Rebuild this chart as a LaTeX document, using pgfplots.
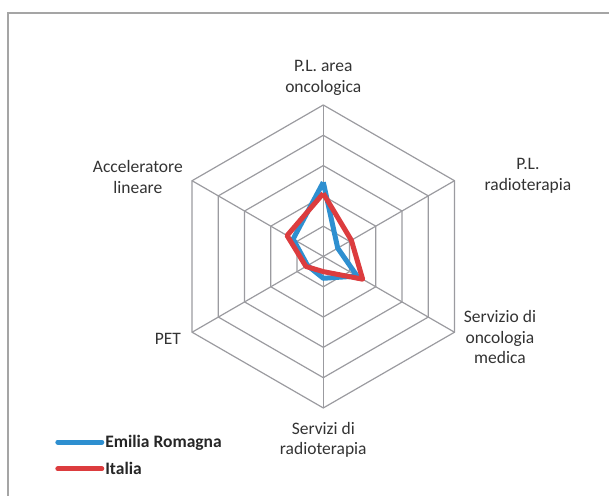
\documentclass[border=0pt]{standalone}
\usepackage{fontspec}
\setmainfont{Carlito}
\usepackage{pgfplots}
\pgfplotsset{compat=1.18}
\definecolor{erblue}{RGB}{46,143,208}
\definecolor{itred}{RGB}{220,60,62}
\definecolor{gridgray}{RGB}{155,155,160}
\definecolor{framegray}{RGB}{165,165,165}

\begin{document}
\begin{tikzpicture}[lab/.style={align=center, font=\fontsize{17.5}{20.5}\selectfont, text=black!80}]
\begin{axis}[
  x=30.3pt, y=30.3pt,
  xmin=-10.67, xmax=9.43, ymin=-7.904, ymax=8.465,
  hide axis, clip=false,
  legend style={at={(axis description cs:0.0905,0.0817)}, anchor=west,
    draw=none, fill=none, inner sep=0pt, row sep=11pt,
    font=\fontsize{17.5}{20}\selectfont\bfseries,
    nodes={inner sep=1pt, text=black!85}},
  legend cell align=left,
  legend image code/.code={\draw[#1, line width=5pt, line cap=round] (0pt,0pt) -- (44pt,0pt);},
]
% hexagon rings and spokes
\addplot[gridgray, line width=1.2pt, data cs=polar, forget plot] coordinates {(90,1)(30,1)(-30,1)(-90,1)(-150,1)(150,1)(90,1)};
\addplot[gridgray, line width=1.2pt, data cs=polar, forget plot] coordinates {(90,2)(30,2)(-30,2)(-90,2)(-150,2)(150,2)(90,2)};
\addplot[gridgray, line width=1.2pt, data cs=polar, forget plot] coordinates {(90,3)(30,3)(-30,3)(-90,3)(-150,3)(150,3)(90,3)};
\addplot[gridgray, line width=1.2pt, data cs=polar, forget plot] coordinates {(90,4)(30,4)(-30,4)(-90,4)(-150,4)(150,4)(90,4)};
\addplot[gridgray, line width=1.2pt, data cs=polar, forget plot] coordinates {(90,5)(30,5)(-30,5)(-90,5)(-150,5)(150,5)(90,5)};
\addplot[gridgray, line width=1.2pt, data cs=polar, forget plot] coordinates {(0,0)(90,5)};
\addplot[gridgray, line width=1.2pt, data cs=polar, forget plot] coordinates {(0,0)(30,5)};
\addplot[gridgray, line width=1.2pt, data cs=polar, forget plot] coordinates {(0,0)(-30,5)};
\addplot[gridgray, line width=1.2pt, data cs=polar, forget plot] coordinates {(0,0)(-90,5)};
\addplot[gridgray, line width=1.2pt, data cs=polar, forget plot] coordinates {(0,0)(-150,5)};
\addplot[gridgray, line width=1.2pt, data cs=polar, forget plot] coordinates {(0,0)(150,5)};
% series
\addplot[erblue, line width=5pt, line join=round, data cs=polar, forget plot] coordinates {
  (90,2.45) (30,0.55) (-30,1.29) (-90,0.72) (-150,0.60) (150,1.15) (90,2.45)};
\addplot[itred, line width=5pt, line join=round, data cs=polar, forget plot] coordinates {
  (90,2.08) (30,1.07) (-30,1.50) (-90,0.50) (-150,0.66) (150,1.38) (90,2.08)};
\addlegendimage{erblue}
\addlegendentry{Emilia Romagna}
\addlegendimage{itred}
\addlegendentry{Italia}
% category labels
\node[lab] at (axis cs:0,5.90) {P.L. area\\oncologica};
\node[lab] at (axis cs:6.756,2.66) {P.L.\\radioterapia};
\node[lab] at (axis cs:5.83,-2.66) {Servizio di\\oncologia\\medica};
\node[lab] at (axis cs:0,-6.06) {Servizi di\\radioterapia};
\node[lab] at (axis cs:-5.13,-2.72) {PET};
\node[lab] at (axis cs:-6.12,2.62) {Acceleratore\\lineare};
% chart frame (top and left edges visible)
\draw[framegray, line width=1.5pt] (rel axis cs:0.0131,0) -- (rel axis cs:0.0131,0.9738) -- (rel axis cs:1,0.9738);
\coordinate (ll) at (rel axis cs:0,0);
\coordinate (ur) at (rel axis cs:1,1);
\end{axis}
\pgfresetboundingbox
\path[use as bounding box] (ll) rectangle (ur);
\end{tikzpicture}
\end{document}
